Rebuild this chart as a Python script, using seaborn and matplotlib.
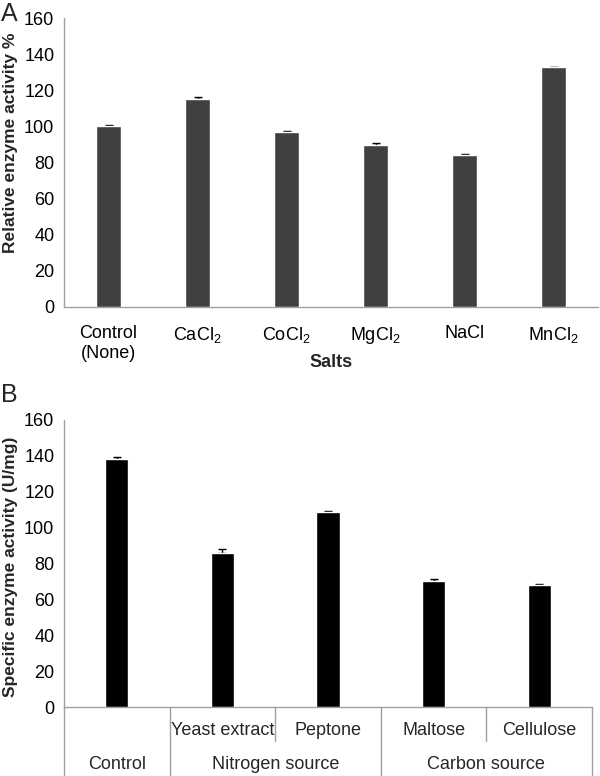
import numpy as np
import pandas as pd
import seaborn as sns
import matplotlib.pyplot as plt
import matplotlib.transforms as mtransforms

# Panel A data
salts = ['Control\n(None)', 'CaCl$_2$', 'CoCl$_2$', 'MgCl$_2$', 'NaCl', 'MnCl$_2$']
rel_activity = [100, 115.2, 97.1, 89.8, 84.2, 132.7]
rel_err = [0.5, 1.0, 0.4, 1.1, 0.6, 0.4]

# Panel B data
sources = ['', 'Yeast extract', 'Peptone', 'Maltose', 'Cellulose']
groups = ['Control', 'Nitrogen source', 'Nitrogen source', 'Carbon source', 'Carbon source']
spec_activity = [138.0, 86.1, 108.9, 70.2, 67.9]
spec_err = [1.4, 2.0, 0.6, 1.2, 0.9]

sns.set_style('white')
plt.rcParams['font.family'] = ['Liberation Sans', 'DejaVu Sans']
plt.rcParams['mathtext.fontset'] = 'custom'
plt.rcParams['mathtext.rm'] = 'Liberation Sans'
plt.rcParams['mathtext.it'] = 'Liberation Sans:italic'
plt.rcParams['mathtext.bf'] = 'Liberation Sans:bold'

grey = '#a0a0a0'
fs = 13

fig = plt.figure(figsize=(6, 7.76), dpi=100)
axA = fig.add_axes([0.1067, 0.6044, 0.8900, 0.3724])
axB = fig.add_axes([0.1067, 0.0885, 0.8800, 0.3703])

# ---- Panel A
dfA = pd.DataFrame({'salt': salts, 'val': rel_activity})
sns.barplot(data=dfA, x='salt', y='val', color='#404040', saturation=1,
            width=0.28, ax=axA, zorder=3)
xa = np.arange(len(salts))
axA.errorbar(xa, rel_activity, yerr=[np.zeros(len(salts)), rel_err], fmt='none',
             ecolor='black', elinewidth=1, capsize=3, capthick=1, zorder=2)
axA.set_ylim(0, 160)
axA.set_yticks(np.arange(0, 161, 20))
axA.set_xlim(-0.5, len(salts) - 0.5)
axA.set_xticks(xa)
axA.set_xticklabels(salts, fontsize=fs)
axA.set_xticks(np.arange(-0.5, len(salts)), minor=True)
axA.tick_params(axis='x', which='major', length=0, pad=13)
axA.tick_params(axis='x', which='minor', length=5, color=grey, width=1, direction='out')
axA.tick_params(axis='y', length=5, color=grey, width=1, direction='out', pad=2, labelsize=fs)
axA.set_xlabel('Salts', fontsize=fs, fontweight='bold')
axA.xaxis.set_label_coords(0.5, -0.163)
axA.set_ylabel('Relative enzyme activity %', fontsize=12.5, fontweight='bold')
axA.yaxis.set_label_coords(-0.086, 0.567)

# ---- Panel B
dfB = pd.DataFrame({'src': [f'{g}|{s}' for g, s in zip(groups, sources)], 'val': spec_activity})
sns.barplot(data=dfB, x='src', y='val', color='black', saturation=1,
            width=0.22, ax=axB, zorder=3)
xb = np.arange(len(sources))
axB.errorbar(xb, spec_activity, yerr=[np.zeros(len(sources)), spec_err], fmt='none',
             ecolor='black', elinewidth=1, capsize=3, capthick=1, zorder=2)
axB.set_ylim(0, 160)
axB.set_yticks(np.arange(0, 161, 20))
axB.set_xlim(-0.5, len(sources) - 0.5)
axB.set_xticks([])
axB.set_xlabel('')
axB.set_ylabel('Specific enzyme activity (U/mg)', fontsize=12.5, fontweight='bold')
axB.yaxis.set_label_coords(-0.087, 0.489)
axB.tick_params(axis='y', length=5, color=grey, width=1, direction='out', pad=2, labelsize=fs)

# two-level category table under the B axis
trans = mtransforms.blended_transform_factory(axB.transData, axB.transAxes)
for i, s in enumerate(sources):
    axB.text(i, -0.079, s, transform=trans, ha='center', va='center', fontsize=fs)
# group spans
spans = []
start = 0
for i in range(1, len(groups) + 1):
    if i == len(groups) or groups[i] != groups[start]:
        spans.append((groups[start], start, i - 1))
        start = i
bounds_full = set()
for name, a, b in spans:
    axB.text((a + b) / 2, -0.2, name, transform=trans, ha='center', va='center', fontsize=fs)
    bounds_full.add(a - 0.5)
    bounds_full.add(b + 0.5)
for k in range(len(sources) + 1):
    xk = k - 0.5
    y_end = -0.25 if xk in bounds_full else -0.117
    axB.plot([xk, xk], [0, y_end], transform=trans, color=grey, lw=1, clip_on=False)

for ax in (axA, axB):
    sns.despine(ax=ax)
    for side in ('left', 'bottom'):
        ax.spines[side].set_color(grey)
        ax.spines[side].set_linewidth(1)
    ax.tick_params(labelcolor='black')

fig.text(0.002, 0.997, 'A', fontsize=18, ha='left', va='top')
fig.text(0.002, 0.5064, 'B', fontsize=18, ha='left', va='top')

fig.savefig('out.png', dpi=100)
